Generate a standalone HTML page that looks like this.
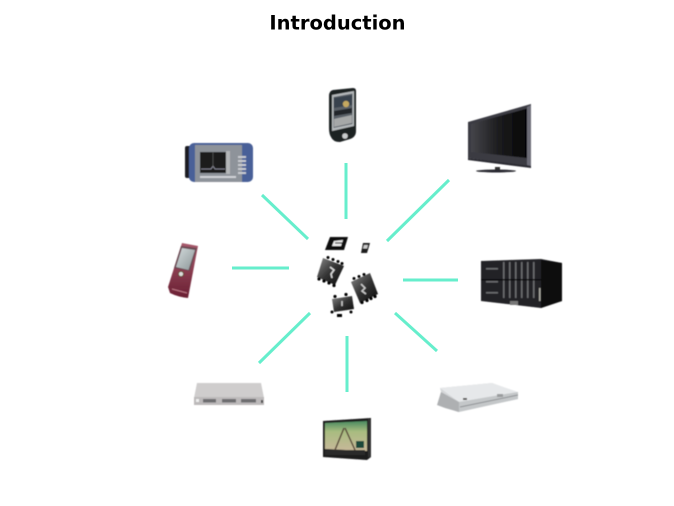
<!DOCTYPE html>
<html><head><meta charset="utf-8"><style>
html,body{margin:0;padding:0;background:#fff}
svg{display:block}
</style></head><body>
<svg width="674" height="506" viewBox="0 0 674 506" xmlns="http://www.w3.org/2000/svg">
<defs>
<linearGradient id="tv" x1="0" y1="0" x2="1" y2="0"><stop offset="0" stop-color="#45454a"/><stop offset=".5" stop-color="#1c1c1e"/><stop offset="1" stop-color="#050505"/></linearGradient>
<linearGradient id="chip" x1="0" y1="0" x2="1" y2="1"><stop offset="0" stop-color="#8a8a8a"/><stop offset=".5" stop-color="#333"/><stop offset="1" stop-color="#0c0c0c"/></linearGradient>
<linearGradient id="red" x1="0" y1="0" x2="0" y2="1"><stop offset="0" stop-color="#a85a6c"/><stop offset="1" stop-color="#6a1f33"/></linearGradient>
<linearGradient id="scr" x1="0" y1="0" x2="1" y2="1"><stop offset="0" stop-color="#d4dcdd"/><stop offset="1" stop-color="#8c9698"/></linearGradient>
<linearGradient id="map" x1="0" y1="0" x2="0" y2="1"><stop offset="0" stop-color="#4a8a60"/><stop offset=".35" stop-color="#a8bc80"/><stop offset="1" stop-color="#c8b89a"/></linearGradient>
<filter id="b"><feGaussianBlur stdDeviation=".55"/></filter>
</defs>
<text x="337.5" y="29.500" text-anchor="middle" font-family="'DejaVu Sans',sans-serif" font-weight="700" font-size="19.500" fill="#000">Introduction</text>
<g stroke="#66eecc" stroke-width="3" fill="none">
<path d="M346 163V219M449 180L387 241M403 280H458M395 313L437 351M347 336V392M310 313L259 363M232 268H289M262 195L308 239"/>
</g>
<g filter="url(#b)">
<!-- smartphone -->
<path d="M333 90L353 88Q356 88 356 91V131Q356 137 350 139L340 142Q333 142 331 137Q329 134 329 128V96Q329 91 333 90Z" fill="#1d2024"/>
<path d="M332 95L354 91V126L332 131Z" fill="#b4b8ba"/>
<path d="M333.500 97L352.500 93.500V124L333.500 128Z" fill="#5a6068"/>
<path d="M334 98L352 95V105L334 108Z" fill="#39434e"/>
<circle cx="346" cy="104" r="3.200" fill="#c4a860"/>
<path d="M334 111L352 108V113L334 116Z" fill="#24282c"/>
<path d="M334 119L352 115V123L334 127Z" fill="#a6a8a8"/>
<circle cx="345" cy="136" r="2.800" fill="#c9cccc"/>
<!-- spectrum analyzer -->
<rect x="185" y="146" width="6" height="32" rx="2" fill="#1a1c22"/>
<rect x="189" y="143" width="64" height="39" rx="5" fill="#4a6098"/>
<rect x="195" y="145" width="47" height="37" fill="#8e939a"/>
<rect x="200" y="152" width="26" height="21" fill="#1a1c1c"/>
<path d="M201 169H211L213 166L215 169H225" stroke="#99a" stroke-width=".7" fill="none"/>
<path d="M213 152V168" stroke="#666" stroke-width=".6"/>
<rect x="226" y="151" width="4" height="23" fill="#b4b6b8"/>
<g fill="#c8cad0"><rect x="238" y="156" width="8" height="2"/><rect x="238" y="160" width="8" height="2"/><rect x="238" y="164" width="8" height="2"/><rect x="238" y="168" width="8" height="2"/><rect x="238" y="172" width="8" height="2"/></g>
<rect x="200" y="176" width="36" height="2" fill="#d0d2d6" stroke-dasharray="2 2"/>
<!-- TV -->
<path d="M468 122L531 104V167L468 158Z" fill="#3a3a42"/>
<path d="M471 124L527 108.500V158L471 152Z" fill="url(#tv)"/>
<path d="M527 107L531 105V166L527 165Z" fill="#6d6d78"/>
<path d="M468 158L531 166V168L468 160Z" fill="#2a2a30"/>
<rect x="495" y="167" width="5" height="4" fill="#333"/>
<ellipse cx="496" cy="171" rx="20" ry="1.500" fill="#2c2c30"/>
<!-- server -->
<path d="M481 261L541 259L562 263V301L541 308L481 301Z" fill="#232325"/>
<path d="M541 260L562 263V301L541 308Z" fill="#0d0d0e"/>
<g fill="#6a6c6e"><rect x="486" y="268" width="12" height="1.500"/><rect x="486" y="281" width="12" height="1.500"/><rect x="486" y="292" width="12" height="1.500"/>
<rect x="503" y="262" width="1.500" height="36"/><rect x="509" y="262" width="1.500" height="36"/><rect x="515" y="262" width="1.500" height="36"/><rect x="521" y="262" width="1.500" height="36"/><rect x="527" y="262" width="1.500" height="36"/><rect x="533" y="262" width="1.500" height="36"/></g>
<rect x="481" y="279" width="60" height="1.500" fill="#0a0a0a"/>
<rect x="539" y="288" width="1.500" height="13" fill="#a8a8a0"/>
<rect x="510" y="301" width="8" height="4" fill="#777"/>
<!-- set top box -->
<path d="M440 388L492 383L518 393V399L458 412L445 407Z" fill="#d5d7d9"/>
<path d="M440 388L492 383L518 392L459 402Z" fill="#e6e8ea"/>
<path d="M441 392L459 402V412L445 408L437 405Z" fill="#aeb0b2"/>
<path d="M459 402L518 392V399L459 412Z" fill="#c4c7c9"/>
<path d="M460 407L518 395" stroke="#8e9194" stroke-width="1"/>
<rect x="463" y="398" width="4" height="2" fill="#555"/>
<rect x="497" y="394" width="6" height="3" fill="#9a9c9e"/>
<!-- GPS -->
<path d="M323 421L371 418V457L367 460L323 457Z" fill="#1a1a1c"/>
<path d="M325 423L367 421V451L325 449Z" fill="url(#map)"/>
<path d="M344 428L335 450M345 428L355 450" stroke="#5a4a3a" stroke-width="1.500" fill="none"/>
<rect x="356" y="441" width="8" height="7" fill="#1a4a3a"/>
<rect x="325" y="450" width="40" height="5" fill="#2c2c2c"/>
<rect x="368" y="419" width="3" height="38" fill="#333"/>
<!-- switch -->
<path d="M197 383H261L264 398H194Z" fill="#cfcdcd"/>
<rect x="194" y="397" width="70" height="8" fill="#bcb9ba"/>
<rect x="203" y="399" width="13" height="3.500" fill="#6e6d70"/><rect x="222" y="399" width="14" height="3.500" fill="#6e6d70"/><rect x="241" y="399" width="15" height="3.500" fill="#6e6d70"/>
<rect x="196" y="399" width="3" height="3" fill="#eee"/>
<rect x="261" y="400" width="2" height="3" fill="#444"/>
<!-- slider phone -->
<path d="M182 243L198 246L188 298Q178 297 170 293L168 287Z" fill="url(#red)"/>
<path d="M181 246L197 248L190 271L174 268Z" fill="#6a4a52"/>
<path d="M182 248L195 250L188.500 270L176 267Z" fill="url(#scr)"/>
<circle cx="181" cy="274" r="2.500" fill="#ddd" stroke="#552" stroke-width=".8"/>
<path d="M172 289L187 293" stroke="#c07a88" stroke-width="1"/>
<!-- chips -->
<g>
<path d="M330 237L348 237L344 250L325 250Z" fill="#0e0e0e"/>
<path d="M334 241L343 240L341 246L332 246Z" fill="#eee"/>
<path d="M335 243H342" stroke="#111" stroke-width="1.200"/>
<path d="M363 243L370 243L367 253L361 253Z" fill="#1c1c1c"/>
<path d="M364 245L368 245L367 248.500L363 248.500Z" fill="#ccc"/>
<path d="M323 258L344 266L335 285L317 277Z" fill="url(#chip)"/>
<g fill="#000"><circle cx="328" cy="257.500" r="1.500"/><circle cx="333" cy="259.500" r="1.500"/><circle cx="338" cy="261.500" r="1.500"/><circle cx="342" cy="263.500" r="1.500"/><circle cx="319" cy="279" r="1.600"/><circle cx="324" cy="281" r="1.600"/><circle cx="329" cy="283" r="1.600"/><circle cx="334" cy="285.500" r="1.600"/></g>
<path d="M330 267L334 270L331 274L332 278" stroke="#ddd" stroke-width="1.500" fill="none"/>
<path d="M351 282L370 273L378 294L360 303Z" fill="url(#chip)"/>
<g fill="#000"><circle cx="354" cy="278.500" r="1.500"/><circle cx="359" cy="276.500" r="1.500"/><circle cx="364" cy="274.500" r="1.500"/><circle cx="362" cy="302.500" r="1.600"/><circle cx="367" cy="300.500" r="1.600"/><circle cx="371" cy="298.500" r="1.600"/><circle cx="375" cy="296.500" r="1.600"/></g>
<path d="M361 284L365 288L362 291L366 294" stroke="#ccc" stroke-width="1.500" fill="none"/>
<path d="M332 299L352 296L354 309L334 312Z" fill="url(#chip)"/>
<g fill="#000"><circle cx="335" cy="296.500" r="1.600"/><circle cx="346" cy="294.500" r="1.600"/><rect x="337" y="314" width="5" height="3"/><circle cx="332" cy="312" r="1.500"/><circle cx="351" cy="312" r="1.500"/></g>
<path d="M342 301V306" stroke="#ccc" stroke-width="1.500"/>
</g>
</g>
</svg>
</body></html>
